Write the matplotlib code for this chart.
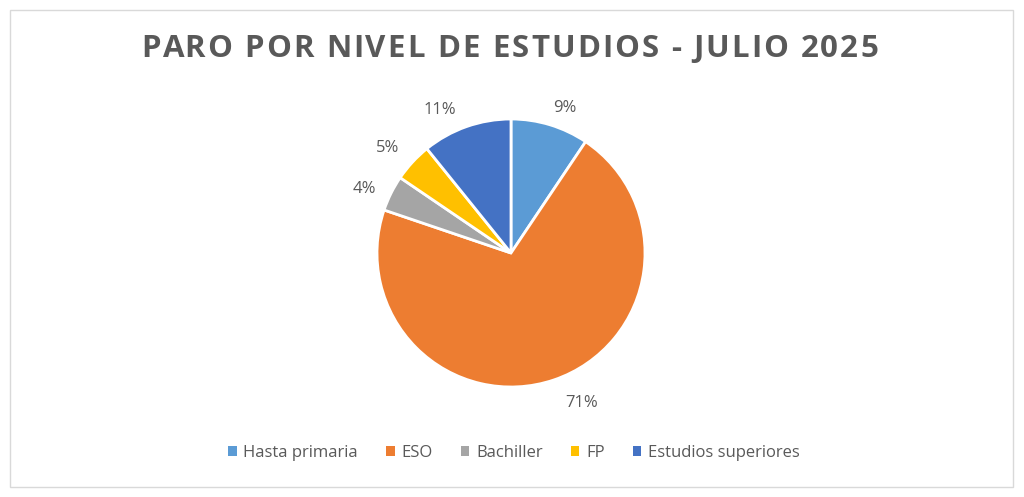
import matplotlib
matplotlib.use("Agg")
import numpy as np
import matplotlib.pyplot as plt
from matplotlib.patches import Rectangle, Patch
from matplotlib.font_manager import FontProperties

categories = ["Hasta primaria", "ESO", "Bachiller", "FP", "Estudios superiores"]
values = [9.4, 70.8, 4.3, 4.7, 10.8]
colors = ["#5B9BD5", "#ED7D31", "#A5A5A5", "#FFC000", "#4472C4"]
title = "PARO POR NIVEL DE ESTUDIOS - JULIO 2025"

W, H = 1024, 497
fig = plt.figure(figsize=(W / 100, H / 100), dpi=100)
fig.patch.set_facecolor("white")

# border
fig.patches.append(Rectangle((10 / W, 10 / H), 1003 / W, 477 / H, transform=fig.transFigure,
                             fill=False, edgecolor="#D9D9D9", linewidth=1))

cx, cy, r = 511, H - 253, 134
ax = fig.add_axes([(cx - r) / W, (cy - r) / H, 2 * r / W, 2 * r / H])
wedges, texts, autotexts = ax.pie(values, colors=colors, startangle=90, counterclock=False,
                                  autopct="%.0f%%", pctdistance=1.1,
                                  wedgeprops=dict(edgecolor="white", linewidth=2),
                                  textprops=dict(color="#595959", fontsize=12, family="Open Sans"))
for w, t in zip(wedges, autotexts):
    ang = np.deg2rad((w.theta1 + w.theta2) / 2)
    dx, dy = np.cos(ang), np.sin(ang)
    px, py = 1.07 * dx, 1.07 * dy
    if dx < 0:
        px -= 0.05
    if dy < -0.5:
        px += 0.06
        py -= 0.05
    t.set_position((px, py))
    t.set_ha("left" if dx > 0 else "right")
    if abs(dy) < 0.5:
        t.set_va("center")
    else:
        t.set_va("bottom" if dy > 0 else "top")
ax.set_xlim(-1, 1)
ax.set_ylim(-1, 1)
ax.set_aspect("equal")
ax.axis("off")

# letter-spaced title
fp = FontProperties(family="Open Sans", weight="bold", size=22.5)
renderer = fig.canvas.get_renderer()
def tw(s):
    if not s:
        return 0.0
    return renderer.get_text_width_height_descent(s, fp, ismath=False)[0]
x0, x1 = 141, 878
total = tw(title)
spacing = (x1 - x0 - total) / (len(title) - 1)
ty = 1 - 49 / H
for i, ch in enumerate(title):
    if ch == " ":
        continue
    x = x0 + tw(title[:i]) + i * spacing
    fig.text(x / W, ty, ch, ha="left", va="center", fontproperties=fp, color="#595959")

handles = [Patch(facecolor=c, edgecolor="none") for c in colors]
fig.legend(handles, categories, loc="center", bbox_to_anchor=(514 / W, 1 - 453 / H), ncol=5,
           frameon=False, handlelength=0.5, handleheight=0.5, handletextpad=0.4, columnspacing=1.7,
           prop=dict(family="Open Sans", size=12), labelcolor="#595959")

fig.savefig("out.png", dpi=100)
